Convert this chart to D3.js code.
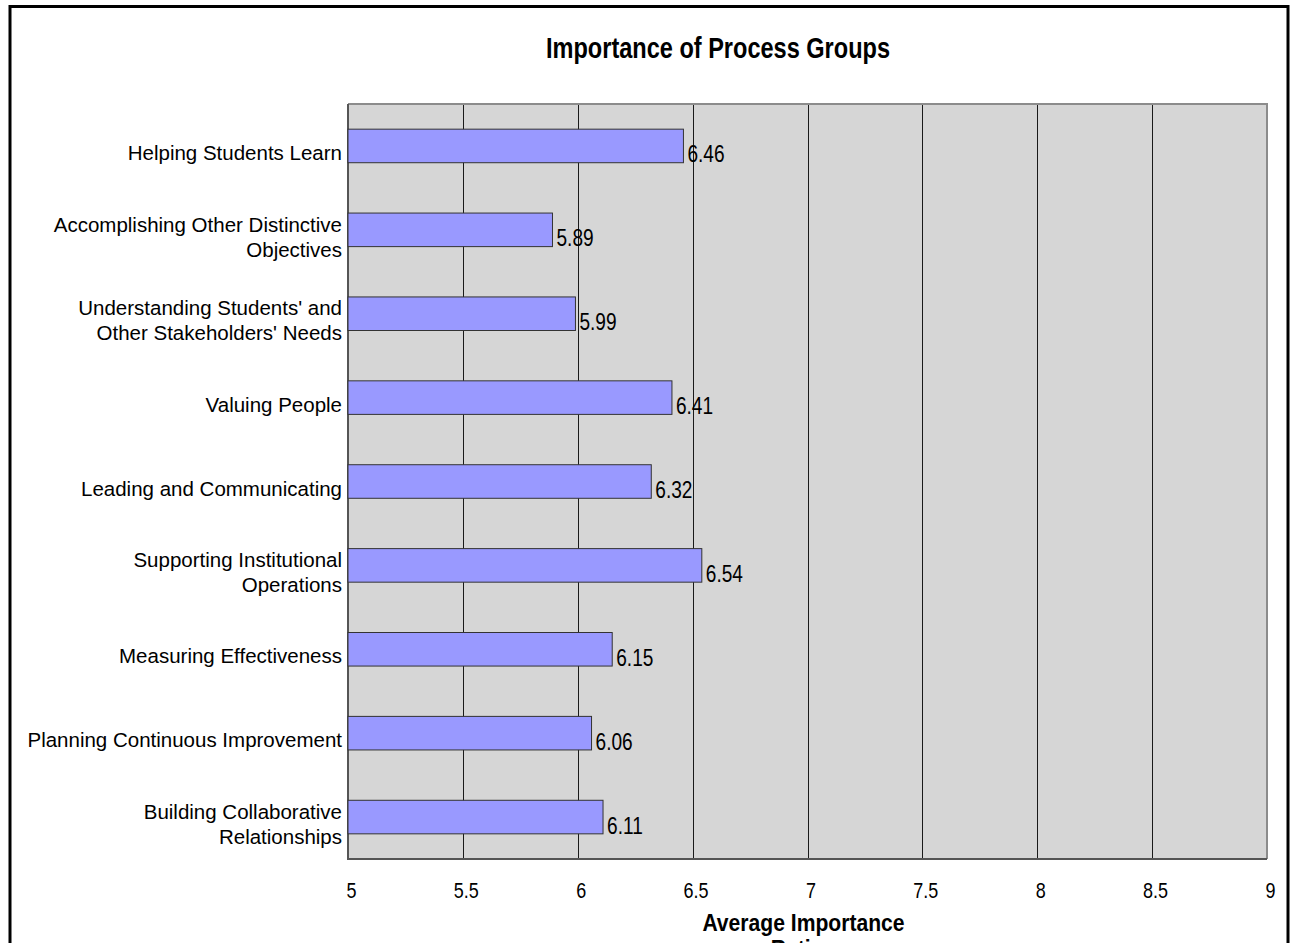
<!DOCTYPE html>
<html>
<head>
<meta charset="utf-8">
<script src="https://cdn.jsdelivr.net/npm/d3@7"></script>
<style>
  html, body { margin: 0; padding: 0; background: #fff; }
  svg { display: block; }
  text { font-family: "Liberation Sans", Arial, sans-serif; }
</style>
</head>
<body>
<script>
// Process groups, top to bottom, each split into its display lines
const categories = [
  ["Helping Students Learn"],
  ["Accomplishing Other Distinctive", "Objectives"],
  ["Understanding Students' and", "Other Stakeholders' Needs"],
  ["Valuing People"],
  ["Leading and Communicating"],
  ["Supporting Institutional", "Operations"],
  ["Measuring Effectiveness"],
  ["Planning Continuous Improvement"],
  ["Building Collaborative", "Relationships"]
];
const values = [6.46, 5.89, 5.99, 6.41, 6.32, 6.54, 6.15, 6.06, 6.11];
const xTicks = [5, 5.5, 6, 6.5, 7, 7.5, 8, 8.5, 9];
const chartTitle = "Importance of Process Groups";
const axisTitleLines = ["Average Importance", "Rating"];

const W = 1291, H = 943;
const plot = { left: 348, right: 1267, top: 104, bottom: 859 };

// narrow face: horizontally squeezed text anchored at (x, y)
function narrowAt(sel, x, y, s) {
  return sel.attr("transform", `translate(${x},${y}) scale(${s},1)`);
}

const svg = d3.select("body").append("svg")
  .attr("width", W).attr("height", H);

// outer chart frame
svg.append("rect")
  .attr("x", 10).attr("y", 6.5)
  .attr("width", 1278).attr("height", 960)
  .attr("fill", "#fff").attr("stroke", "#000").attr("stroke-width", 3);

const x = d3.scaleLinear().domain([5, 9]).range([plot.left, plot.right]);
const ids = d3.range(categories.length);
const y = d3.scaleBand().domain(ids).range([plot.top, plot.bottom])
  .paddingInner(0.6).paddingOuter(0.3);
const bandCenter = i => y(i) + y.bandwidth() / 2;

// plot background
svg.append("rect")
  .attr("x", plot.left).attr("y", plot.top)
  .attr("width", plot.right - plot.left).attr("height", plot.bottom - plot.top)
  .attr("fill", "#d6d6d6");

// vertical gridlines
svg.append("g").selectAll("line")
  .data(xTicks.slice(1, -1))
  .join("line")
  .attr("x1", d => Math.round(x(d)) + 0.5).attr("x2", d => Math.round(x(d)) + 0.5)
  .attr("y1", plot.top).attr("y2", plot.bottom)
  .attr("stroke", "#1a1a1a").attr("stroke-width", 1);

// plot frame: light top/right, darker axes left/bottom
svg.append("path")
  .attr("d", `M${plot.left},${plot.top}H${plot.right}V${plot.bottom}`)
  .attr("fill", "none").attr("stroke", "#8c8c8c").attr("stroke-width", 2);
svg.append("path")
  .attr("d", `M${plot.left},${plot.top}V${plot.bottom}H${plot.right}`)
  .attr("fill", "none").attr("stroke", "#555").attr("stroke-width", 2);

// bars
svg.append("g").selectAll("rect")
  .data(values)
  .join("rect")
  .attr("x", x(5))
  .attr("y", (d, i) => y(i))
  .attr("width", d => x(d) - x(5))
  .attr("height", y.bandwidth())
  .attr("fill", "#9999ff")
  .attr("stroke", "#333").attr("stroke-width", 1);

// value labels
svg.append("g").selectAll("text")
  .data(values)
  .join("text")
  .each(function (d, i) {
    narrowAt(d3.select(this), x(d) + 4, bandCenter(i) + 16.5, 0.83);
  })
  .attr("font-size", 23)
  .attr("fill", "#000")
  .text(d => d3.format(".2f")(d));

// category labels
const catG = svg.append("g");
categories.forEach((lines, i) => {
  const lh = 25;
  const c = bandCenter(i) + 7;
  const t = catG.append("text")
    .attr("text-anchor", "end")
    .attr("font-size", 20.5)
    .attr("fill", "#000");
  lines.forEach((ln, k) => {
    t.append("tspan")
      .attr("x", plot.left - 6)
      .attr("y", c + (k - (lines.length - 1) / 2) * lh)
      .attr("dy", "0.35em")
      .text(ln);
  });
});

// x axis tick labels
const xAxis = d3.axisBottom(x).tickValues(xTicks).tickSize(0).tickPadding(0)
  .tickFormat(d3.format("~g"));
const ax = svg.append("g")
  .attr("transform", `translate(0,${plot.bottom})`)
  .call(xAxis);
ax.select(".domain").remove();
ax.selectAll("text")
  .attr("font-family", null)
  .attr("y", null).attr("dy", null)
  .attr("font-size", 22.5)
  .attr("fill", "#000")
  .each(function () { narrowAt(d3.select(this), 3, 38.5, 0.8); });

// axis title
const at = svg.append("g");
axisTitleLines.forEach((ln, k) => {
  narrowAt(at.append("text"), (plot.left + plot.right) / 2 - 4, 931 + k * 26, 0.88)
    .attr("text-anchor", "middle")
    .attr("font-weight", "bold")
    .attr("font-size", 24)
    .attr("fill", "#000")
    .text(ln);
});

// chart title
narrowAt(svg.append("text"), 718, 58, 0.785)
  .attr("text-anchor", "middle")
  .attr("font-weight", "bold")
  .attr("font-size", 30)
  .attr("fill", "#000")
  .text(chartTitle);
</script>
</body>
</html>
